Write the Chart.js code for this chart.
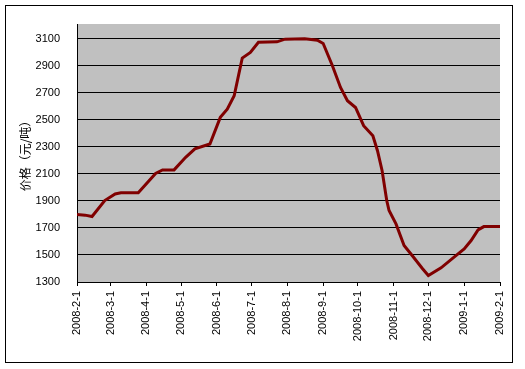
<!DOCTYPE html>
<html>
<head>
<meta charset="utf-8">
<script src="https://cdn.jsdelivr.net/npm/chart.js@4/dist/chart.umd.min.js"></script>
<style>
  html, body { margin: 0; padding: 0; background: #fff; }
  canvas { display: block; }
</style>
</head>
<body>
<canvas id="chart" width="525" height="369"></canvas>
<script>
// price points (date, 元/吨)
const dates = [
  '2008-2-1', '2008-2-8', '2008-2-14', '2008-2-25', '2008-3-5', '2008-3-10', '2008-3-25',
  '2008-4-9', '2008-4-15', '2008-4-25', '2008-5-5', '2008-5-13', '2008-5-26',
  '2008-6-4', '2008-6-10', '2008-6-16', '2008-6-20', '2008-6-23', '2008-6-30',
  '2008-7-7', '2008-7-23', '2008-7-30', '2008-8-16', '2008-8-27', '2008-9-1',
  '2008-9-9', '2008-9-16', '2008-9-22', '2008-9-29', '2008-10-6', '2008-10-14',
  '2008-10-18', '2008-10-22', '2008-10-26', '2008-10-28', '2008-11-3', '2008-11-10',
  '2008-11-17', '2008-11-26', '2008-12-1', '2008-12-12', '2008-12-23', '2009-1-1',
  '2009-1-7', '2009-1-13', '2009-1-18', '2009-2-1'
];
const prices = [
  1800, 1795, 1785, 1903, 1952, 1960, 1960,
  2104, 2130, 2130, 2223, 2285, 2322,
  2519, 2580, 2679, 2839, 2958, 2999,
  3075, 3078, 3098, 3100, 3090, 3066,
  2901, 2740, 2642, 2592, 2457, 2383,
  2272, 2124, 1903, 1829, 1730, 1570,
  1496, 1398, 1348, 1405, 1483, 1545,
  1607, 1686, 1710, 1710
];
const xTickLabels = [
  '2008-2-1', '2008-3-1', '2008-4-1', '2008-5-1', '2008-6-1', '2008-7-1', '2008-8-1',
  '2008-9-1', '2008-10-1', '2008-11-1', '2008-12-1', '2009-1-1', '2009-2-1'
];
const yTicks = [1300, 1500, 1700, 1900, 2100, 2300, 2500, 2700, 2900, 3100];

// day offset from the first date, so the axis is spaced like a real calendar
function dayOf(s) {
  const [y, m, d] = s.split('-').map(Number);
  const [y0, m0, d0] = dates[0].split('-').map(Number);
  return Math.round((Date.UTC(y, m - 1, d) - Date.UTC(y0, m0 - 1, d0)) / 86400000);
}
const tickDays = xTickLabels.map(dayOf);
const points = dates.map((d, i) => ({ x: dayOf(d), y: prices[i] }));

Chart.defaults.font.family = '"Liberation Sans", Arial, sans-serif';
Chart.defaults.font.size = 11;
Chart.defaults.color = '#000';

// white page, outer frame and grey plot area
const framePlugin = {
  id: 'frame',
  beforeDraw(chart) {
    const { ctx, chartArea: a } = chart;
    ctx.save();
    ctx.fillStyle = '#fff';
    ctx.fillRect(0, 0, chart.width, chart.height);
    ctx.strokeStyle = '#000';
    ctx.lineWidth = 1;
    ctx.strokeRect(5.5, 5.5, 507, 357);
    ctx.fillStyle = '#c0c0c0';
    ctx.fillRect(a.left, a.top, a.right - a.left, a.bottom - a.top);
    ctx.restore();
  }
};

new Chart(document.getElementById('chart'), {
  type: 'line',
  data: {
    datasets: [{
      data: points,
      borderColor: '#800000',
      borderWidth: 3,
      pointRadius: 0,
      tension: 0,
      fill: false
    }]
  },
  options: {
    responsive: false,
    devicePixelRatio: 1,
    animation: false,
    layout: { padding: { top: 24, right: 25, left: 0, bottom: 0 } },
    plugins: { legend: { display: false }, tooltip: { enabled: false } },
    scales: {
      x: {
        type: 'linear',
        min: 0,
        max: tickDays[tickDays.length - 1],
        afterBuildTicks: (axis) => { axis.ticks = tickDays.map(v => ({ value: v })); },
        afterFit: (scale) => { scale.height = 87; },
        ticks: {
          autoSkip: false,
          minRotation: 90,
          maxRotation: 90,
          padding: 5,
          callback: (v) => xTickLabels[tickDays.indexOf(v)]
        },
        grid: { drawOnChartArea: false, drawTicks: true, tickLength: 4, tickColor: '#000' },
        border: { color: '#000', width: 1 }
      },
      y: {
        min: 1300,
        max: 3210,
        afterBuildTicks: (axis) => { axis.ticks = yTicks.map(v => ({ value: v })); },
        afterFit: (scale) => { scale.width = 77; },
        ticks: { padding: 17, callback: (v) => String(v) },
        grid: { color: '#000', lineWidth: 1, drawTicks: false },
        border: { color: '#000', width: 1 },
        title: {
          display: true,
          text: '价格（元/吨）',
          font: { family: '"Noto Sans CJK SC", sans-serif', size: 12 },
          padding: { top: 18, bottom: 0 }
        }
      }
    }
  },
  plugins: [framePlugin]
});
</script>
</body>
</html>
